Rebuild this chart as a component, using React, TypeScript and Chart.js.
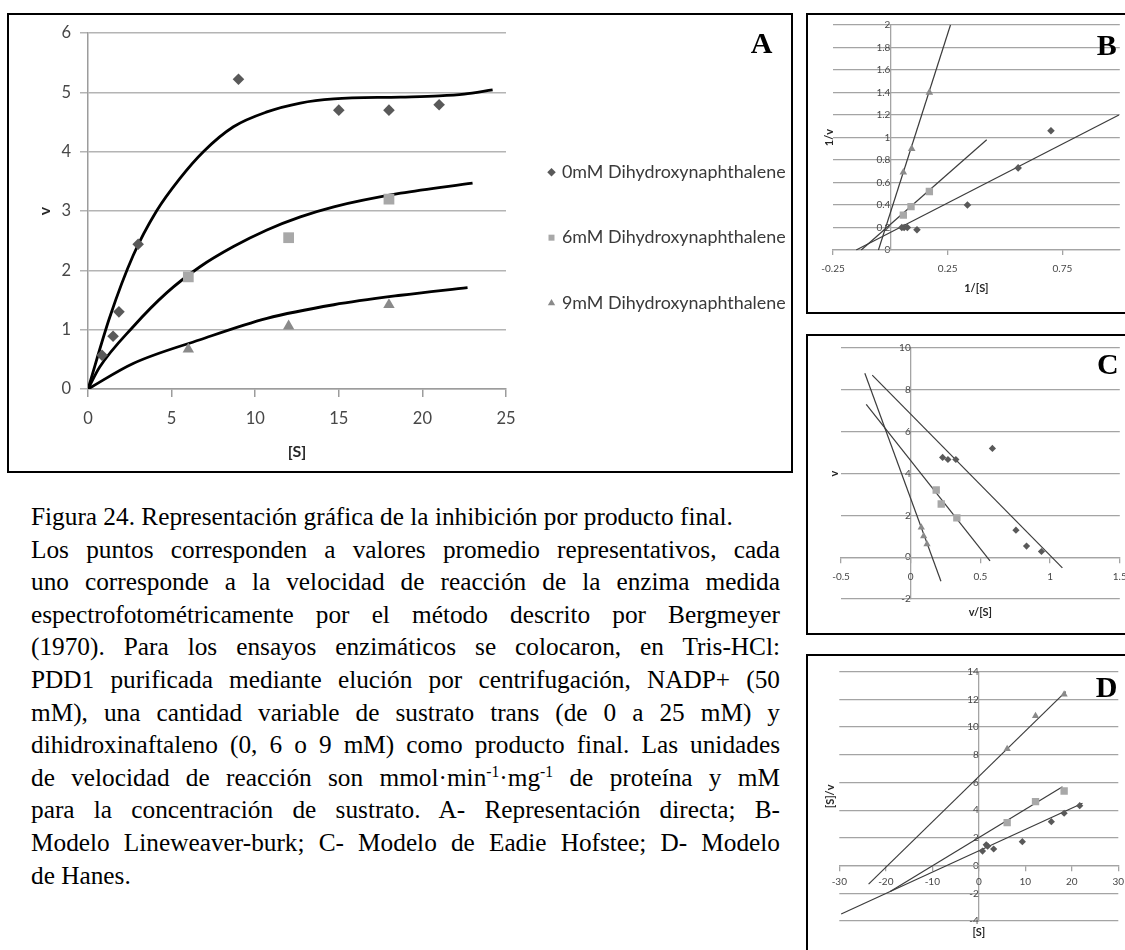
import React, { useEffect, useRef } from 'react';
import { Chart, registerables } from 'chart.js';
Chart.register(...registerables);

// ---------- shared text / series names ----------
const SERIES_LABELS = ['0mM Dihydroxynaphthalene', '6mM Dihydroxynaphthalene', '9mM Dihydroxynaphthalene'];
const POINT_STYLES = ['rectRot', 'rect', 'triangle'];
const MARKER_COLORS = ['#595959', '#a8a8a8', '#8a8a8a'];

// ---------- Panel A: direct plot v vs [S] ----------
const A_S_0 = [0.84, 1.5, 1.85, 3, 9, 15, 18, 21];
const A_V_0 = [0.57, 0.89, 1.3, 2.44, 5.22, 4.7, 4.7, 4.79];
const A_S_6 = [6, 12, 18];
const A_V_6 = [1.89, 2.55, 3.2];
const A_S_9 = [6, 12, 18];
const A_V_9 = [0.67, 1.06, 1.42];
// fitted curves
const A_FIT_S_0 = [0, 1.3, 2.7, 4.1, 5.5, 6.9, 8.7, 10.7, 12.7, 14.7, 18.7, 21, 22.5, 24.2];
const A_FIT_V_0 = [0, 1.21, 2.25, 3.0, 3.55, 4.0, 4.42, 4.67, 4.82, 4.89, 4.92, 4.94, 4.97, 5.04];
const A_FIT_S_6 = [0, 0.7, 2.7, 4.7, 6.7, 8.7, 10.7, 12.7, 14.7, 18.7, 23.0];
const A_FIT_V_6 = [0, 0.37, 1.05, 1.62, 2.06, 2.4, 2.68, 2.9, 3.07, 3.3, 3.47];
const A_FIT_S_9 = [0, 2.7, 6.7, 10.7, 14.7, 18.7, 22.7];
const A_FIT_V_9 = [0, 0.43, 0.83, 1.19, 1.42, 1.58, 1.71];
const A_X_RANGE = [0, 25, 5];
const A_Y_RANGE = [0, 6, 1];

// ---------- Panel B: Lineweaver-Burk ----------
const B_X_0 = [0.7, 0.557, 0.336, 0.116, 0.074, 0.06, 0.05];
const B_Y_0 = [1.06, 0.73, 0.4, 0.18, 0.2, 0.2, 0.2];
const B_X_6 = [0.17, 0.09, 0.0565];
const B_Y_6 = [0.52, 0.385, 0.31];
const B_X_9 = [0.17, 0.093, 0.0565];
const B_Y_9 = [1.4, 0.9, 0.69];
const B_LINE_X_0 = [-0.149, 0.996];
const B_LINE_Y_0 = [0, 1.2];
const B_LINE_X_6 = [-0.127, 0.42];
const B_LINE_Y_6 = [0, 0.98];
const B_LINE_X_9 = [-0.052, 0.262];
const B_LINE_Y_9 = [0, 2.0];
const B_X_TICKS = [-0.25, 0.25, 0.75];
const B_X_RANGE = [-0.25, 1.0];
const B_Y_RANGE = [0, 2, 0.2];

// ---------- Panel C: Eadie-Hofstee ----------
const C_X_0 = [0.229, 0.267, 0.324, 0.586, 0.755, 0.831, 0.938];
const C_Y_0 = [4.77, 4.67, 4.67, 5.2, 1.29, 0.53, 0.27];
const C_X_6 = [0.183, 0.219, 0.331];
const C_Y_6 = [3.21, 2.54, 1.88];
const C_X_9 = [0.076, 0.093, 0.117];
const C_Y_9 = [1.42, 1.0, 0.62];
const C_LINE_X_0 = [-0.276, 1.088];
const C_LINE_Y_0 = [8.7, -0.51];
const C_LINE_X_6 = [-0.319, 0.569];
const C_LINE_Y_6 = [7.3, -0.18];
const C_LINE_X_9 = [-0.329, 0.217];
const C_LINE_Y_9 = [8.79, -1.15];
const C_X_RANGE = [-0.5, 1.5, 0.5];
const C_Y_RANGE = [-2, 10, 2];

// ---------- Panel D: Hanes ----------
const D_X_0 = [0.8, 1.6, 1.9, 3.2, 9.36, 15.6, 18.35, 21.7];
const D_Y_0 = [1.05, 1.5, 1.4, 1.2, 1.73, 3.17, 3.78, 4.33];
const D_X_6 = [6.1, 12.2, 18.35];
const D_Y_6 = [3.1, 4.62, 5.39];
const D_X_9 = [6.1, 12.2, 18.35];
const D_Y_9 = [8.42, 10.8, 12.36];
const D_LINE_X_0 = [-29.6, 22.3];
const D_LINE_Y_0 = [-3.49, 4.5];
const D_LINE_X_6 = [-19.06, 18.0];
const D_LINE_Y_6 = [-1.87, 5.7];
const D_LINE_X_9 = [-23.7, 18.7];
const D_LINE_Y_9 = [-1.34, 12.56];
const D_X_RANGE = [-30, 30, 10];
const D_Y_RANGE = [-4, 14, 2];

// ---------- caption ----------
const CAPTION_LINES = [
  'Figura 24. Representación gráfica de la inhibición por producto final.',
  'Los puntos corresponden a valores promedio representativos, cada',
  'uno corresponde a la velocidad de reacción de la enzima medida',
  'espectrofotométricamente por el método descrito por Bergmeyer',
  '(1970). Para los ensayos enzimáticos se colocaron, en Tris-HCl:',
  'PDD1 purificada mediante elución por centrifugación, NADP+ (50',
  'mM), una cantidad variable de sustrato trans (de 0 a 25 mM) y',
  'dihidroxinaftaleno (0, 6 o 9 mM) como producto final. Las unidades',
  'de velocidad de reacción son mmol·min^-1^·mg^-1^ de proteína y mM',
  'para la concentración de sustrato. A- Representación directa; B-',
  'Modelo Lineweaver-burk; C- Modelo de Eadie Hofstee;  D- Modelo',
  'de Hanes.',
];

// ---------- styling ----------
const SANS = 'Lato, "Open Sans", sans-serif';
const SERIF = '"Liberation Serif", "Times New Roman", serif';
const TICK_COLOR = '#474747';
const TITLE_COLOR = '#262626';
const GRID_A = '#b4b4b4';
const AXIS_A = '#9c9c9c';
const GRID_S = '#a4a4a4';
const LINE_S = '#3c3c3c';

const pts = (xs: number[], ys: number[]) => xs.map((x, i) => ({ x, y: ys[i] }));
const fmt = (v: any) => String(Math.round(Number(v) * 1000) / 1000);
const zeroPad = (s: any) => {
  s.paddingLeft = 0;
  s.paddingRight = 0;
  s.paddingTop = 0;
  s.paddingBottom = 0;
};

const markerSet = (i: number, xs: number[], ys: number[], radius: number, label?: any) => ({
  label: label ?? SERIES_LABELS[i],
  data: pts(xs, ys),
  showLine: false,
  pointStyle: POINT_STYLES[i],
  pointRadius: radius,
  pointBackgroundColor: MARKER_COLORS[i],
  pointBorderColor: MARKER_COLORS[i],
  pointBorderWidth: 0,
  backgroundColor: MARKER_COLORS[i],
  borderColor: MARKER_COLORS[i],
});

const lineSet = (xs: number[], ys: number[], color: string, width: number, smooth: boolean) => ({
  label: 'fit',
  data: pts(xs, ys),
  showLine: true,
  pointRadius: 0,
  borderColor: color,
  backgroundColor: color,
  borderWidth: width,
  fill: false,
  tension: 0,
  cubicInterpolationMode: smooth ? 'monotone' : 'default',
});

function configA(): any {
  return {
    type: 'scatter',
    data: {
      datasets: [
        markerSet(0, A_S_0, A_V_0, 5.8, [SERIES_LABELS[0]]),
        markerSet(1, A_S_6, A_V_6, 7.6, [SERIES_LABELS[1]]),
        markerSet(2, A_S_9, A_V_9, 6.6, [SERIES_LABELS[2]]),
        lineSet(A_FIT_S_0, A_FIT_V_0, '#000000', 2.8, true),
        lineSet(A_FIT_S_6, A_FIT_V_6, '#000000', 2.8, true),
        lineSet(A_FIT_S_9, A_FIT_V_9, '#000000', 2.8, true),
      ],
    },
    options: {
      animation: false,
      responsive: false,
      events: [],
      layout: { padding: { left: 20, top: 18, right: 5, bottom: 0 } },
      plugins: {
        tooltip: { enabled: false },
        legend: {
          display: true,
          position: 'right',
          align: 'start',
          maxWidth: 280,
          title: { display: true, text: ' ', font: { size: 10, lineHeight: 1.2 }, padding: { top: 0, bottom: 74.25 } },
          labels: {
            usePointStyle: true,
            boxWidth: 3,
            boxHeight: 6,
            padding: 44,
            color: '#3a3a3a',
            font: { family: SANS, size: 17.9, lineHeight: 1.2 },
            filter: (item: any) => item.datasetIndex < 3,
          },
        },
      },
      scales: {
        x: {
          type: 'linear',
          position: 'bottom',
          min: A_X_RANGE[0],
          max: A_X_RANGE[1],
          ticks: { stepSize: A_X_RANGE[2], padding: 12, color: TICK_COLOR, font: { family: SANS, size: 16.5 } },
          grid: { drawOnChartArea: false, drawTicks: true, tickLength: 8, color: AXIS_A, lineWidth: 1.5 },
          border: { display: true, color: AXIS_A, width: 1.5 },
          title: {
            display: true, text: '[S]', color: TITLE_COLOR,
            font: { family: SANS, size: 16, weight: 'bold', lineHeight: 1.2 },
            padding: { top: 0, bottom: 9.1 },
          },
          afterFit: (s: any) => { s.height = 82; zeroPad(s); },
        },
        y: {
          type: 'linear',
          position: 'left',
          min: A_Y_RANGE[0],
          max: A_Y_RANGE[1],
          ticks: { stepSize: A_Y_RANGE[2], padding: 9, color: TICK_COLOR, font: { family: SANS, size: 16.5 } },
          grid: { drawTicks: true, tickLength: 8, color: GRID_A, lineWidth: 1.5 },
          border: { display: true, color: AXIS_A, width: 1.5 },
          title: {
            display: true, text: 'v', color: TITLE_COLOR,
            font: { family: SANS, size: 16, weight: 'bold', lineHeight: 1.2 },
            padding: { top: 6.4, bottom: 0 },
          },
          afterFit: (s: any) => { s.width = 59; zeroPad(s); },
        },
      },
    },
  };
}

interface SmallSpec {
  datasets: any[];
  pad: { left: number; top: number; right: number; bottom: number };
  yTitle: string;
  yTitleWidth: number;
  yTitlePad: number;
  xTitle: string;
  xTitleHeight: number;
  xTitlePad: number;
  xMin: number;
  xMax: number;
  xStep?: number;
  xTicks?: number[];
  xLabelPad: number;
  xAtZero: boolean;
  yMin: number;
  yMax: number;
  yStep: number;
  yLabelPad: number;
}

function configSmall(p: SmallSpec): any {
  const tickFont = { family: SANS, size: 10, lineHeight: 1.2 };
  const titleFont = { family: SANS, size: 11, weight: 'bold', lineHeight: 1.2 };
  const scales: any = {
    yT: {
      type: 'linear',
      position: 'left',
      display: true,
      grid: { display: false },
      border: { display: false },
      ticks: { display: false },
      title: { display: true, text: p.yTitle, color: TITLE_COLOR, font: titleFont, padding: { top: p.yTitlePad, bottom: 0 } },
      afterFit: (s: any) => { s.width = p.yTitleWidth; zeroPad(s); },
    },
    y: {
      type: 'linear',
      position: { x: 0 },
      min: p.yMin,
      max: p.yMax,
      ticks: { stepSize: p.yStep, padding: p.yLabelPad, color: TICK_COLOR, font: tickFont, callback: fmt },
      grid: { drawTicks: false, color: GRID_S, lineWidth: 1.3 },
      border: { display: true, color: GRID_S, width: 1.3 },
      afterFit: (s: any) => zeroPad(s),
    },
    x: {
      type: 'linear',
      position: p.xAtZero ? { y: 0 } : 'bottom',
      min: p.xMin,
      max: p.xMax,
      ticks: { stepSize: p.xStep, padding: p.xLabelPad, color: TICK_COLOR, font: tickFont, callback: fmt, maxRotation: 0 },
      grid: { drawOnChartArea: false, drawTicks: true, tickLength: 5, color: GRID_S, lineWidth: 1.3 },
      border: { display: true, color: GRID_S, width: 1.3 },
      afterFit: (s: any) => {
        if (!p.xAtZero) s.height = p.xTitleHeight;
        zeroPad(s);
      },
    },
  };
  if (p.xTicks) {
    scales.x.afterBuildTicks = (s: any) => { s.ticks = p.xTicks!.map((v) => ({ value: v })); };
  }
  const xTitleCfg = { display: true, text: p.xTitle, color: TITLE_COLOR, font: titleFont, padding: { top: 0, bottom: p.xTitlePad } };
  if (p.xAtZero) {
    scales.xT = {
      type: 'linear',
      position: 'bottom',
      display: true,
      grid: { display: false },
      border: { display: false },
      ticks: { display: false },
      title: xTitleCfg,
      afterFit: (s: any) => { s.height = p.xTitleHeight; zeroPad(s); },
    };
  } else {
    scales.x.title = xTitleCfg;
  }
  return {
    type: 'scatter',
    data: { datasets: p.datasets },
    options: {
      animation: false,
      responsive: false,
      events: [],
      layout: { padding: p.pad },
      plugins: { legend: { display: false }, tooltip: { enabled: false } },
      scales,
    },
  };
}

function configB(): any {
  return configSmall({
    datasets: [
      markerSet(0, B_X_0, B_Y_0, 3.8),
      markerSet(1, B_X_6, B_Y_6, 5.2),
      markerSet(2, B_X_9, B_Y_9, 4.4),
      lineSet(B_LINE_X_0, B_LINE_Y_0, LINE_S, 1.2, false),
      lineSet(B_LINE_X_6, B_LINE_Y_6, LINE_S, 1.2, false),
      lineSet(B_LINE_X_9, B_LINE_Y_9, LINE_S, 1.2, false),
    ],
    pad: { left: 0, top: 10, right: 5, bottom: 0 },
    yTitle: '1/v', yTitleWidth: 25, yTitlePad: 14.4,
    xTitle: '1/[S]', xTitleHeight: 62, xTitlePad: 17.1,
    xMin: B_X_RANGE[0], xMax: B_X_RANGE[1], xTicks: B_X_TICKS, xLabelPad: 7.3, xAtZero: false,
    yMin: B_Y_RANGE[0], yMax: B_Y_RANGE[1], yStep: B_Y_RANGE[2], yLabelPad: 11,
  });
}

function configC(): any {
  return configSmall({
    datasets: [
      markerSet(0, C_X_0, C_Y_0, 3.6),
      markerSet(1, C_X_6, C_Y_6, 5.2),
      markerSet(2, C_X_9, C_Y_9, 4.2),
      lineSet(C_LINE_X_0, C_LINE_Y_0, LINE_S, 1.2, false),
      lineSet(C_LINE_X_6, C_LINE_Y_6, LINE_S, 1.2, false),
      lineSet(C_LINE_X_9, C_LINE_Y_9, LINE_S, 1.2, false),
    ],
    pad: { left: 0, top: 12, right: 3, bottom: 0 },
    yTitle: 'v', yTitleWidth: 33, yTitlePad: 19.4,
    xTitle: 'v/[S]', xTitleHeight: 34, xTitlePad: 14.4,
    xMin: C_X_RANGE[0], xMax: C_X_RANGE[1], xStep: C_X_RANGE[2], xLabelPad: 8.7, xAtZero: true,
    yMin: C_Y_RANGE[0], yMax: C_Y_RANGE[1], yStep: C_Y_RANGE[2], yLabelPad: 11,
  });
}

function configD(): any {
  return configSmall({
    datasets: [
      markerSet(0, D_X_0, D_Y_0, 3.6),
      markerSet(1, D_X_6, D_Y_6, 5.2),
      markerSet(2, D_X_9, D_Y_9, 4.2),
      lineSet(D_LINE_X_0, D_LINE_Y_0, LINE_S, 1.2, false),
      lineSet(D_LINE_X_6, D_LINE_Y_6, LINE_S, 1.2, false),
      lineSet(D_LINE_X_9, D_LINE_Y_9, LINE_S, 1.2, false),
    ],
    pad: { left: 0, top: 15.7, right: 6.7, bottom: 0 },
    yTitle: '[S]/v', yTitleWidth: 31.3, yTitlePad: 16.2,
    xTitle: '[S]', xTitleHeight: 29, xTitlePad: 10.7,
    xMin: D_X_RANGE[0], xMax: D_X_RANGE[1], xStep: D_X_RANGE[2], xLabelPad: 5.6, xAtZero: true,
    yMin: D_Y_RANGE[0], yMax: D_Y_RANGE[1], yStep: D_Y_RANGE[2], yLabelPad: 10,
  });
}

function ChartCanvas(props: { make: () => any; left: number; top: number; width: number; height: number }) {
  const ref = useRef<HTMLCanvasElement>(null);
  useEffect(() => {
    const chart = new Chart(ref.current as HTMLCanvasElement, props.make());
    return () => chart.destroy();
  }, []);
  return (
    <canvas
      ref={ref}
      width={props.width}
      height={props.height}
      style={{ position: 'absolute', left: props.left, top: props.top, width: props.width, height: props.height }}
    />
  );
}

function Box(props: { left: number; top: number; width: number; height: number }) {
  return (
    <div
      style={{
        position: 'absolute', left: props.left, top: props.top, width: props.width, height: props.height,
        border: '2px solid #000', boxSizing: 'border-box', background: '#fff',
      }}
    />
  );
}

function Letter(props: { text: string; left: number; top: number }) {
  return (
    <div
      style={{
        position: 'absolute', left: props.left, top: props.top, fontFamily: SERIF, fontWeight: 'bold',
        fontSize: 30, lineHeight: '30px', color: '#000',
      }}
    >
      {props.text}
    </div>
  );
}

function renderCaptionLine(line: string) {
  const parts = line.split('^');
  return parts.map((part, i) =>
    i % 2 === 1 ? (
      <sup key={i} style={{ fontSize: '0.62em', lineHeight: 0, verticalAlign: '0.55em' }}>{part}</sup>
    ) : (
      <React.Fragment key={i}>{part}</React.Fragment>
    )
  );
}

export default function App() {
  return (
    <div style={{ position: 'absolute', left: 0, top: 0, width: 1125, height: 950, overflow: 'hidden', background: '#fff' }}>
      <Box left={7} top={13} width={786} height={460} />
      <Box left={806} top={13} width={340} height={301} />
      <Box left={806} top={334} width={340} height={301} />
      <Box left={806} top={654} width={340} height={320} />
      <ChartCanvas make={configA} left={9} top={15} width={782} height={456} />
      <ChartCanvas make={configB} left={808} top={15} width={317} height={297} />
      <ChartCanvas make={configC} left={808} top={336} width={317} height={297} />
      <ChartCanvas make={configD} left={808} top={656} width={317} height={294} />
      <Letter text="A" left={750.7} top={27.8} />
      <Letter text="B" left={1096.7} top={29.8} />
      <Letter text="C" left={1097} top={348.5} />
      <Letter text="D" left={1095.7} top={671.5} />
      <div
        style={{
          position: 'absolute', left: 31, top: 500, width: 749, fontFamily: SERIF, fontSize: 25.3,
          lineHeight: '32.6px', color: '#000',
        }}
      >
        {CAPTION_LINES.map((line, i) => {
          const justify = i > 0 && i < CAPTION_LINES.length - 1;
          return (
            <div
              key={i}
              style={{
                textAlign: justify ? 'justify' : 'left',
                textAlignLast: justify ? 'justify' : 'left',
                whiteSpace: 'normal',
              }}
            >
              {renderCaptionLine(line)}
            </div>
          );
        })}
      </div>
    </div>
  );
}
